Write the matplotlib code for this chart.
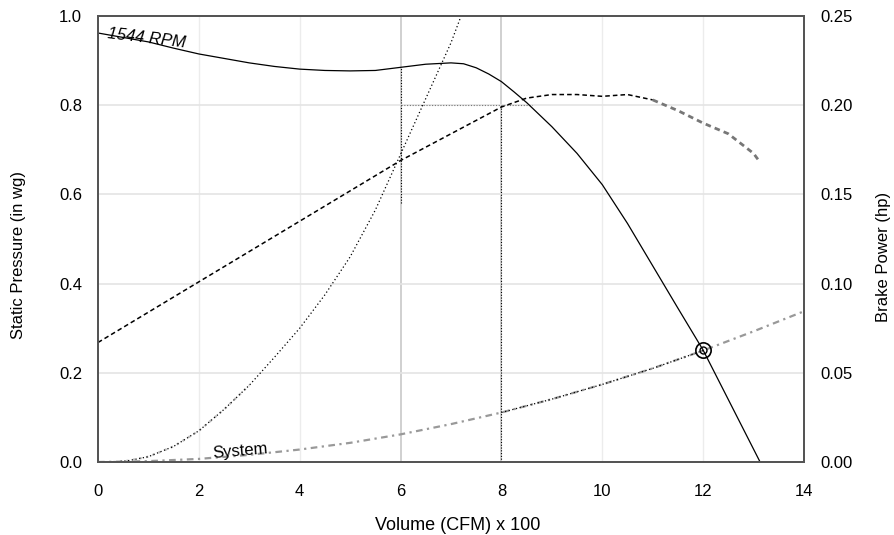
import matplotlib
matplotlib.use("Agg")
import matplotlib.pyplot as plt

plt.rcParams['font.family'] = ['Liberation Sans', 'DejaVu Sans']

# fan curve, 1544 RPM (static pressure, in wg)
fan_q = [0, 0.5, 1, 1.5, 2, 2.5, 3, 3.5, 4, 4.5, 5, 5.5, 6, 6.5, 7, 7.25, 7.5, 7.75,
         8, 8.25, 8.5, 9, 9.5, 10, 10.5, 11, 11.5, 12, 12.5, 13.13]
fan_p = [0.962, 0.952, 0.942, 0.928, 0.915, 0.905, 0.895, 0.887, 0.881, 0.878, 0.877,
         0.878, 0.885, 0.892, 0.895, 0.893, 0.884, 0.87, 0.853, 0.83, 0.806, 0.752,
         0.692, 0.622, 0.535, 0.44, 0.345, 0.251, 0.14, 0.0]

# system curve
sys_q = [0, 1, 2, 3, 4, 5, 6, 7, 8, 9, 10, 11, 12, 13, 14]
sys_p = [0, 0.002, 0.007, 0.016, 0.028, 0.043, 0.062, 0.085, 0.111, 0.141, 0.174, 0.21, 0.25, 0.293, 0.338]

# steep dotted curve
dot_q = [0.3, 0.6, 1, 1.5, 2, 2.5, 3, 3.5, 4, 4.5, 5, 5.5, 6, 6.5, 7, 7.2]
dot_p = [0, 0.003, 0.012, 0.035, 0.07, 0.118, 0.172, 0.235, 0.3, 0.375, 0.46, 0.565, 0.69, 0.815, 0.94, 1.0]

# brake power (hp), right axis
bhp_q = [0, 1, 2, 3, 4, 5, 6, 7, 8, 8.5, 9, 9.5, 10, 10.5, 11]
bhp_v = [0.067, 0.084, 0.101, 0.118, 0.135, 0.152, 0.169, 0.184, 0.199, 0.204, 0.206, 0.206, 0.205, 0.206, 0.203]
bhp_tail_q = [11, 11.5, 12, 12.5, 13, 13.13]
bhp_tail_v = [0.203, 0.197, 0.19, 0.184, 0.173, 0.168]

op_q, op_p = 12, 0.251

fig = plt.figure(figsize=(8.94, 5.35), dpi=100)
ax = fig.add_axes([0.1096, 0.1364, 0.7897, 0.8336])
ax2 = ax.twinx()

ax.set_xlim(0, 14)
ax.set_ylim(0, 1.0)
ax2.set_ylim(0, 0.25)

# grid
for gx in [2, 4, 10, 12]:
    ax.axvline(gx, color='#ececec', lw=1, zorder=0)
for gx in [6, 8]:
    ax.axvline(gx, color='#c8c8c8', lw=1.2, zorder=0)
for gy in [0.2, 0.4, 0.6, 0.8]:
    ax.axhline(gy, color='#e4e4e4', lw=1.2, zorder=0)

# construction lines
ax.plot([6, 6], [0.58, 0.886], color='black', lw=0.8, ls=(0, (1, 1.5)))
ax.plot([8, 8], [0, 0.8], color='black', lw=0.8, ls=(0, (1, 1.5)))
ax.plot([6, 8.6], [0.8, 0.8], color='#777777', lw=0.8, ls=(0, (1, 1.5)))

ax.plot(fan_q, fan_p, color='black', lw=0.9)
ax.plot(sys_q, sys_p, color='#999999', lw=1.6, ls=(0, (3, 2, 1, 2)))
ax.plot(sys_q[8:13], sys_p[8:13], color='black', lw=0.9, ls=(0, (1, 2)))
ax.plot(dot_q[:7], dot_p[:7], color='#bbbbbb', lw=1.6, ls=(0, (1, 2)))
ax.plot(dot_q, dot_p, color='black', lw=0.9, ls=(0, (1, 2)))
ax2.plot(bhp_q, bhp_v, color='black', lw=1.1, ls=(0, (3, 2)))
ax2.plot(bhp_tail_q, bhp_tail_v, color='#777777', lw=2.0, ls=(0, (2, 1.5)))

ax.plot(op_q, op_p, marker='o', ms=11, mfc='none', mec='black', mew=1.2)
ax.plot(op_q, op_p, marker='o', ms=5, mfc='none', mec='black', mew=1.0)

ax.text(0.18, 0.951, '1544 RPM', fontsize=12, style='italic', rotation=-7,
        ha='left', va='baseline', rotation_mode='anchor')
ax.text(2.28, 0.009, 'System', fontsize=12, rotation=5,
        ha='left', va='baseline', rotation_mode='anchor')

ax.set_xticks(range(0, 15, 2))
ax.set_yticks([0, 0.2, 0.4, 0.6, 0.8, 1.0])
ax.set_yticklabels(['0.0', '0.2', '0.4', '0.6', '0.8', '1.0'])
ax2.set_yticks([0, 0.05, 0.10, 0.15, 0.20, 0.25])
ax2.set_yticklabels(['0.00', '0.05', '0.10', '0.15', '0.20', '0.25'])

ax.tick_params(axis='x', length=0, pad=16, labelsize=12)
ax.tick_params(axis='y', length=0, pad=11.5, labelsize=12)
ax2.tick_params(axis='y', length=0, pad=11.5, labelsize=12)

ax.set_xlabel('Volume (CFM) x 100', fontsize=13, labelpad=13)
ax.set_ylabel('Static Pressure (in wg)', fontsize=12, labelpad=24)
ax2.set_ylabel('Brake Power (hp)', fontsize=12, labelpad=17)
ax.xaxis.label.set_x(0.51)
ax.yaxis.label.set_y(0.464)
ax2.yaxis.label.set_y(0.46)

for a in (ax, ax2):
    for s in a.spines.values():
        s.set_color('#555555')
        s.set_linewidth(1.4)

fig.savefig('out.png', dpi=100)
